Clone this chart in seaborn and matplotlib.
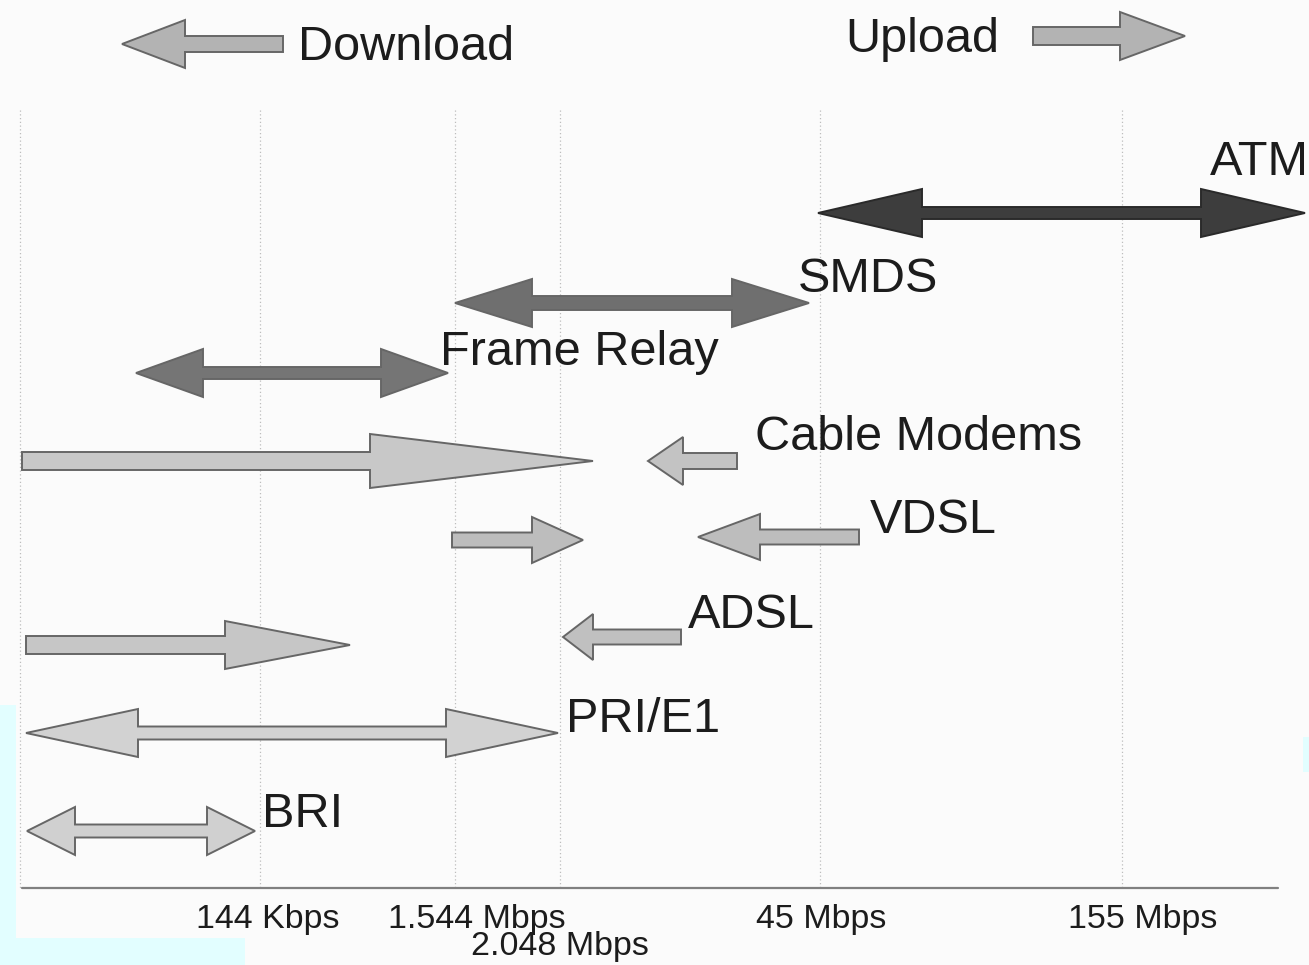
import matplotlib
matplotlib.use("Agg")
import matplotlib.pyplot as plt
import seaborn as sns
from matplotlib.patches import Polygon, Rectangle

# %%
# данные: стрелки технологий (x в единицах оси скоростей, 0..1309)
tech_names = ["ATM", "SMDS", "Frame Relay", "Cable Modems", "Cable Modems",
              "VDSL", "VDSL", "ADSL", "ADSL", "PRI/E1", "BRI"]
arrow_start = [818, 455, 136, 22, 737, 452, 859, 26, 681, 26, 27]
arrow_end = [1305, 809, 448, 593, 648, 583, 698, 350, 563, 558, 255]
arrow_both = [True, True, True, False, False, False, False, False, False, True, True]
arrow_row = [213, 303, 373, 461, 461, 540, 537, 645, 637, 733, 831]

# подписи технологий
label_names = ["ATM", "SMDS", "Frame Relay", "Cable Modems", "VDSL", "ADSL", "PRI/E1", "BRI"]
label_x = [1210, 798, 440, 755, 870, 688, 566, 262]
label_y = [175, 292, 365, 450, 533, 628, 732, 827]

# ось скоростей
tick_pos = [260, 455, 560, 820, 1122]
tick_labels = ["144 Kbps", "1.544 Mbps", "2.048 Mbps", "45 Mbps", "155 Mbps"]
tick_text_x = [268, 477, 560, 821, 1143]
tick_text_y = [928, 928, 955, 928, 928]

# стили стрелок (длина головки, полуширина головки, полуширина стержня, цвет)
head_len = [104, 77, 67, 223, 35, 51, 62, 125, 30, 112, 48]
head_half = [24, 24, 24, 27, 24, 23, 23, 24, 23, 24, 24]
shaft_half = [6, 7, 6, 9, 8, 7.5, 7.5, 9, 7.5, 6.5, 6.5]
arrow_color = ["#3d3d3d", "#6f6f6f", "#757575", "#c8c8c8", "#c3c3c3",
               "#bdbdbd", "#bdbdbd", "#c6c6c6", "#c0c0c0", "#d2d2d2", "#d0d0d0"]


def arrow_poly(x0, x1, y, hl, h, s, both):
    d = 1 if x1 > x0 else -1
    if both:
        pts = [(x0, y), (x0 + d * hl, y - h), (x0 + d * hl, y - s),
               (x1 - d * hl, y - s), (x1 - d * hl, y - h), (x1, y),
               (x1 - d * hl, y + h), (x1 - d * hl, y + s),
               (x0 + d * hl, y + s), (x0 + d * hl, y + h)]
    else:
        pts = [(x0, y - s), (x1 - d * hl, y - s), (x1 - d * hl, y - h), (x1, y),
               (x1 - d * hl, y + h), (x1 - d * hl, y + s), (x0, y + s)]
    return pts


# %%
sns.set_theme(style="white")
plt.rcParams["font.family"] = ["Liberation Sans", "DejaVu Sans"]

fig = plt.figure(figsize=(13.09, 9.65), dpi=100)
fig.patch.set_facecolor("#fbfbfb")
ax = fig.add_axes([0, 0, 1, 1])
ax.set_facecolor("#fbfbfb")
ax.set_xlim(0, 1309)
ax.set_ylim(965, 0)
ax.axis("off")

# пунктирные вертикальные линии сетки
for x in [20] + tick_pos:
    ax.plot([x, x], [110, 888], color="#bdbdbd", lw=0.9, ls=(0, (1, 2)), zorder=1)

# базовая линия оси
sns.lineplot(x=[22, 1278], y=[888, 888], color="#808080", lw=1.6, ax=ax)

for i in range(len(tech_names)):
    pts = arrow_poly(arrow_start[i], arrow_end[i], arrow_row[i],
                     head_len[i], head_half[i], shaft_half[i], arrow_both[i])
    edge = "#2a2a2a" if i == 0 else "#666666"
    ax.add_patch(Polygon(pts, closed=True, facecolor=arrow_color[i],
                         edgecolor=edge, lw=1.4, zorder=3))

for name, x, y in zip(label_names, label_x, label_y):
    ax.text(x, y, name, fontsize=35, color="#1c1c1c", ha="left", va="baseline", zorder=4)

for lab, x, y in zip(tick_labels, tick_text_x, tick_text_y):
    ax.text(x, y, lab, fontsize=24.5, color="#1c1c1c", ha="center", va="baseline")

# легенда: Download / Upload
ax.add_patch(Polygon(arrow_poly(283, 122, 44, 63, 24, 8, False), closed=True,
                     facecolor="#b3b3b3", edgecolor="#666666", lw=1.4))
ax.text(298, 60, "Download", fontsize=35, color="#1c1c1c", va="baseline")
ax.add_patch(Polygon(arrow_poly(1033, 1185, 36, 65, 24, 9, False), closed=True,
                     facecolor="#b3b3b3", edgecolor="#666666", lw=1.4))
ax.text(845, 52, "Upload", fontsize=35, color="#1c1c1c", va="baseline")

# голубые артефакты сканирования
for r in [(0, 705, 16, 260), (0, 938, 245, 27), (1303, 737, 6, 35)]:
    ax.add_patch(Rectangle((r[0], r[1]), r[2], r[3], facecolor="#e2feff",
                           edgecolor="none", zorder=0))

fig.savefig("out.png", dpi=100, facecolor=fig.get_facecolor())
